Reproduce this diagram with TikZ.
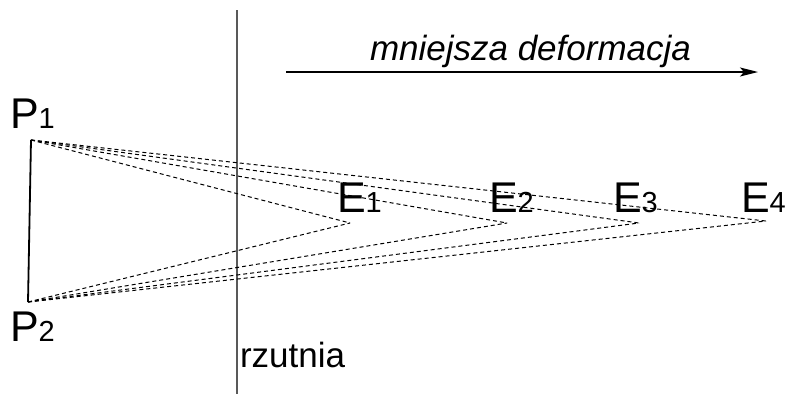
\documentclass[tikz,border=0pt]{standalone}
\usepackage{fontspec}
\setmainfont{Liberation Sans}
\usetikzlibrary{arrows.meta}
\newcommand{\biglab}[2]{{\fontsize{43}{43}\selectfont #1}{\fontsize{29}{29}\selectfont #2}}
\begin{document}
\begin{tikzpicture}[x=1pt,y=-1pt,
  lab/.style={anchor=base west,inner sep=0pt,outer sep=0pt},
  ray/.style={dash pattern=on 4pt off 3pt,line width=1pt}]
\useasboundingbox (0,0) rectangle (788,394);
% projection plane
\coordinate (rtop) at (237,10);
\coordinate (rbot) at (237,394);
\draw[line width=1.8pt,black!65] (rtop) -- (rbot);
% object
\coordinate (P1) at (31,140);
\coordinate (P2) at (28,302);
\draw[line width=1.8pt] (P1) -- (P2);
% eyes
\coordinate (E1) at (350,223);
\coordinate (E2) at (507,223);
\coordinate (E3) at (639,223);
\coordinate (E4) at (766,221);
\foreach \e in {E1,E2,E3,E4}{
  \draw[ray] (P1) -- (\e);
  \draw[ray] (P2) -- (\e);
}
% labels
\node[lab] (lP1) at (10,128) {\biglab{P}{1}};
\node[lab] (lP2) at (10,341) {\biglab{P}{2}};
\node[lab] (lE1) at (337,212) {\biglab{E}{1}};
\node[lab] (lE2) at (489,212) {\biglab{E}{2}};
\node[lab] (lE3) at (613,212) {\biglab{E}{3}};
\node[lab] (lE4) at (741,212) {\biglab{E}{4}};
\node[lab] (lr) at (240,367) {\fontsize{35}{35}\selectfont rzutnia};
\node[lab] (lm) at (370,60) {\fontsize{35}{35}\selectfont\itshape mniejsza deformacja};
% arrow
\coordinate (a1) at (286,72);
\coordinate (a2) at (758,72);
\draw[line width=1.3pt,-{Stealth[length=18pt,width=9pt,inset=4pt]}] (a1) -- (a2);
\end{tikzpicture}
\end{document}
